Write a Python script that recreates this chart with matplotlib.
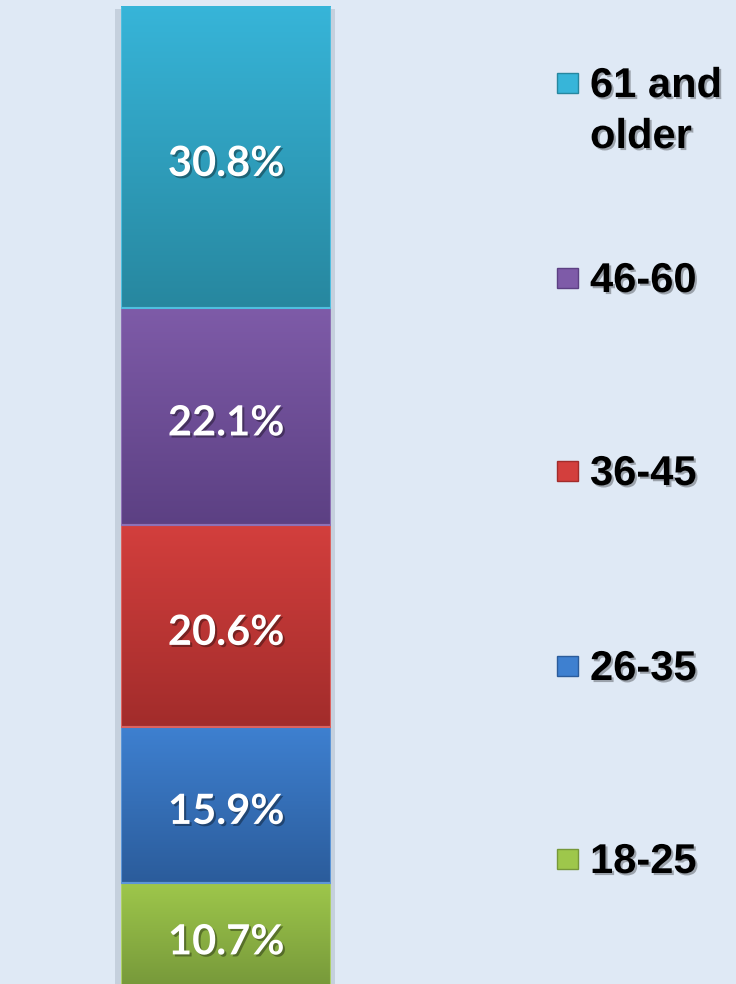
# Stacked share of age groups - single bar with gradient segments

import numpy as np
import matplotlib.pyplot as plt
import matplotlib.patheffects as pe
from matplotlib.colors import LinearSegmentedColormap
from matplotlib.patches import Rectangle

# Data (bottom to top)
groups = ['18-25', '26-35', '36-45', '46-60', '61 and\nolder']
shares = [10.7, 15.9, 20.6, 22.1, 30.8]

# Colours for each segment: top of gradient, bottom of gradient, edge
top_colors = ['#9ec74b', '#3e80d0', '#d33f3d', '#7e5ba8', '#37b5d9']
bottom_colors = ['#76983a', '#2b5c9b', '#a22c2b', '#5c4083', '#27879f']
edge_colors = ['#aed068', '#5c96d8', '#dc625f', '#8e71b6', '#4fbfe0']

bg = '#dfe9f5'

fig = plt.figure(figsize=(7.36, 9.84), dpi=100, facecolor=bg)
ax = fig.add_axes([121 / 736, -4 / 984, 210 / 736, 981 / 984])
ax.set_facecolor(bg)

bottoms = np.cumsum([0] + shares[:-1])
bars = ax.bar(0, shares, bottom=bottoms, width=1, align='edge',
              facecolor='none', edgecolor=edge_colors, linewidth=1.5, zorder=3)

# soft shadow behind the bar
ax.add_patch(Rectangle((-0.028, 0), 1.047, 99.8, facecolor='#c5d0dd',
                       edgecolor='none', zorder=1, clip_on=False))

grad = np.linspace(0, 1, 256).reshape(-1, 1)
for bar, top, bot in zip(bars, top_colors, bottom_colors):
    x0, y0 = bar.get_x(), bar.get_y()
    cmap = LinearSegmentedColormap.from_list('seg', [bot, top])
    img = ax.imshow(grad, cmap=cmap, origin='lower', aspect='auto',
                    extent=[x0, x0 + bar.get_width(), y0, y0 + bar.get_height()],
                    zorder=2)
    img.set_clip_path(bar)

# value labels (nudged a little below the segment centre, like the original)
for b, v in zip(bottoms, shares):
    ax.text(0.5, b + v / 2 - 0.7, f'{v}%', ha='center', va='center', color='white',
            fontsize=30, fontweight='bold', family=['Lato', 'DejaVu Sans'], zorder=4,
            path_effects=[pe.withSimplePatchShadow(offset=(1.5, -1.5),
                                                   shadow_rgbFace='black', alpha=0.35)])

ax.set_xlim(0, 1)
ax.set_ylim(0, 100)
ax.axis('off')

# legend on the right, drawn by hand (top entry first)
legend_y = [858, 665, 470, 277, 82]  # pixel centres of the first line
for label, yc, top, bot, ec in zip(groups, legend_y, top_colors, bottom_colors, edge_colors):
    fig.patches.append(Rectangle((557 / 736, 1 - (yc + 11) / 984), 21 / 736, 20 / 984,
                                 transform=fig.transFigure, facecolor=top,
                                 edgecolor=bot, linewidth=1))
    for i, line in enumerate(label.split('\n')):
        fig.text(590 / 736, 1 - (yc + 15 + i * 51) / 984, line, ha='left', va='baseline',
                 fontsize=30, fontweight='bold', family=['Liberation Sans', 'DejaVu Sans'],
                 color='black',
                 path_effects=[pe.withSimplePatchShadow(offset=(1.5, -1.5),
                                                        shadow_rgbFace='black', alpha=0.3)])

fig.savefig('out.png', dpi=100, facecolor=bg)
